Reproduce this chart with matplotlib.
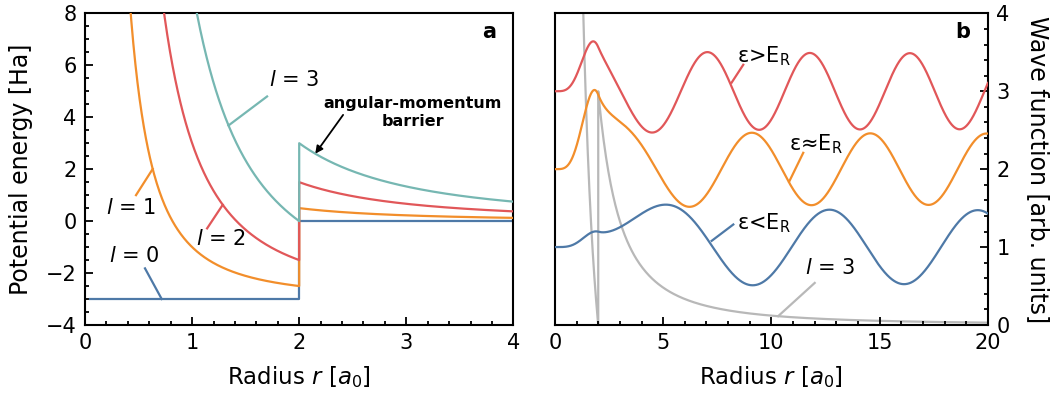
import numpy as np
import matplotlib
matplotlib.use("Agg")
import matplotlib.pyplot as plt
from matplotlib.ticker import MultipleLocator

# --- model parameters -------------------------------------------------------
well_depth = -3.0          # Ha
well_radius = 2.0          # a0
l_values = [0, 1, 2, 3]
l_labels = [r"$l$ = 0", r"$l$ = 1", r"$l$ = 2", r"$l$ = 3"]

# wave functions for l = 3 (panel b)
wf_l = 3
wf_names = ["ε>E$_\\mathrm{R}$", "ε≈E$_\\mathrm{R}$", "ε<E$_\\mathrm{R}$"]
wf_energies = [0.955, 0.705, 0.445]   # Ha
wf_offsets = [3.0, 2.0, 1.0]
wf_amplitudes = [0.49, 0.46, 0.48]

colors_l = ["#4e79a7", "#f28e2b", "#e15759", "#76b7b2"]
colors_wf = ["#e15759", "#f28e2b", "#4e79a7"]
grey = "#b8b8b8"

plt.rcParams["font.family"] = ["DejaVu Sans"]
plt.rcParams["mathtext.fontset"] = "dejavusans"


def potential(r, l):
    well = np.where(r < well_radius, well_depth, 0.0)
    return l * (l + 1) / r**2 + well


def radial_grid(r_min, r_max, n_in, n_out):
    # samples on both sides of the well edge so the step is drawn vertically
    r_in = np.linspace(r_min, well_radius - 1e-9, n_in)
    r_out = np.linspace(well_radius, r_max, n_out)
    return np.concatenate([r_in, r_out])


def solve_radial(E, l, r_max=20.0, n=20001):
    # Numerov integration of u'' = [l(l+1)/r^2 + 2(V - E)] u
    r = np.linspace(0.0, r_max, n)
    h = r[1] - r[0]
    f = np.zeros_like(r)
    well = np.where(r < well_radius, well_depth, 0.0)
    f[1:] = l * (l + 1) / r[1:]**2 + 2.0 * (well[1:] - E)
    u = np.zeros_like(r)
    u[1] = r[1] ** (l + 1)
    u[2] = r[2] ** (l + 1)
    c = h * h / 12.0
    for i in range(2, n - 1):
        u[i + 1] = (2.0 * u[i] * (1 + 5 * c * f[i]) - u[i - 1] * (1 - c * f[i - 1])) / (1 - c * f[i + 1])
    return r, u


fig = plt.figure(figsize=(10.55, 3.96), dpi=100)
ax_a = fig.add_axes([0.0806, 0.1793, 0.406, 0.787])
ax_b = fig.add_axes([0.526, 0.1793, 0.4104, 0.787])

# --- panel a: effective potentials -----------------------------------------
r_a = radial_grid(0.05, 4.0, 400, 400)
for l, c in zip(l_values, colors_l):
    ax_a.plot(r_a, potential(r_a, l), color=c, lw=1.6, zorder=3 if l else 2)

ax_a.set_xlim(0, 4)
ax_a.set_ylim(-4, 8)
ax_a.xaxis.set_major_locator(MultipleLocator(1))
ax_a.xaxis.set_minor_locator(MultipleLocator(0.2))
ax_a.yaxis.set_major_locator(MultipleLocator(2))
ax_a.yaxis.set_minor_locator(MultipleLocator(0.5))
ax_a.set_xlabel(r"Radius $r$ [$a_0$]", fontsize=16.5, labelpad=8)
ax_a.set_ylabel("Potential energy [Ha]", fontsize=17, labelpad=9)
ax_a.text(0.943, 0.94, "a", transform=ax_a.transAxes, fontsize=15,
          fontweight="bold", ha="center", va="center")

label_pos_a = [(0.455, -1.34), (0.43, 0.5), (1.27, -0.69), (1.95, 5.43)]
line_from_a = [(0.56, -1.82), (0.476, 1.0), (1.14, -0.28), (1.70, 4.8)]
line_to_r = [0.716, 0.632, 1.286, 1.34]
for l, c, lab, pos, p0, rt in zip(l_values, colors_l, l_labels, label_pos_a,
                                  line_from_a, line_to_r):
    ax_a.text(*pos, lab, color="black", fontsize=15, ha="center", va="center")
    yt = potential(np.array([rt]), l)[0]
    ax_a.plot([p0[0], rt], [p0[1], yt], color=c, lw=1.6)

ax_a.text(3.06, 4.2, "angular-momentum\nbarrier", fontsize=11.5,
          fontweight="bold", ha="center", va="center", linespacing=1.25)
barrier_r = well_radius + 0.15
ax_a.annotate("", xy=(barrier_r, potential(np.array([barrier_r]), 3)[0]),
              xytext=(2.41, 4.09),
              arrowprops=dict(arrowstyle="-|>", color="black", lw=1.3,
                              mutation_scale=11, shrinkA=0, shrinkB=0))

# --- panel b: l = 3 wave functions ------------------------------------------
r_b = radial_grid(0.5, 20.0, 60, 500)
ax_b.plot(r_b, potential(r_b, wf_l), color=grey, lw=1.6, zorder=1)

for name, E, off, amp, c in zip(wf_names, wf_energies, wf_offsets,
                                wf_amplitudes, colors_wf):
    r, u = solve_radial(E, wf_l)
    tail = r > 12.0
    u = u / np.max(np.abs(u[tail])) * amp
    ax_b.plot(r, off + u, color=c, lw=1.6, zorder=3)

ax_b.set_xlim(0, 20)
ax_b.set_ylim(0, 4)
ax_b.xaxis.set_major_locator(MultipleLocator(5))
ax_b.xaxis.set_minor_locator(MultipleLocator(1))
ax_b.yaxis.set_major_locator(MultipleLocator(1))
ax_b.yaxis.set_minor_locator(MultipleLocator(0.2))
ax_b.yaxis.tick_right()
ax_b.yaxis.set_label_position("right")
ax_b.set_xlabel(r"Radius $r$ [$a_0$]", fontsize=16.5, labelpad=8)
ax_b.set_ylabel("Wave function [arb. units]", fontsize=17, rotation=270,
                labelpad=29)
ax_b.text(0.943, 0.94, "b", transform=ax_b.transAxes, fontsize=15,
          fontweight="bold", ha="center", va="center")

label_pos_b = [(9.65, 3.45), (12.07, 2.32), (9.65, 1.31)]
line_b = [((8.70, 3.34), (8.16, 3.11)), ((11.47, 2.21), (10.82, 1.84)),
          ((8.24, 1.29), (7.24, 1.08))]
for name, pos, (p0, p1), c in zip(wf_names, label_pos_b, line_b, colors_wf):
    ax_b.text(*pos, name, fontsize=15, ha="center", va="center")
    ax_b.plot([p0[0], p1[0]], [p0[1], p1[1]], color=c, lw=1.6)

ax_b.text(12.7, 0.73, r"$l$ = 3", fontsize=15, ha="center", va="center")
rt = 10.31
ax_b.plot([12.0, rt], [0.54, potential(np.array([rt]), wf_l)[0]], color=grey, lw=1.6)

for ax in (ax_a, ax_b):
    for s in ax.spines.values():
        s.set_linewidth(1.5)
    ax.tick_params(which="both", direction="in", labelsize=15, width=1.3,
                   top=False, pad=6)
    ax.tick_params(which="major", length=5.5)
    ax.tick_params(which="minor", length=3.2)
ax_a.tick_params(which="both", right=False)
ax_b.tick_params(which="both", left=False, right=True)

fig.savefig("out.png", dpi=100)
